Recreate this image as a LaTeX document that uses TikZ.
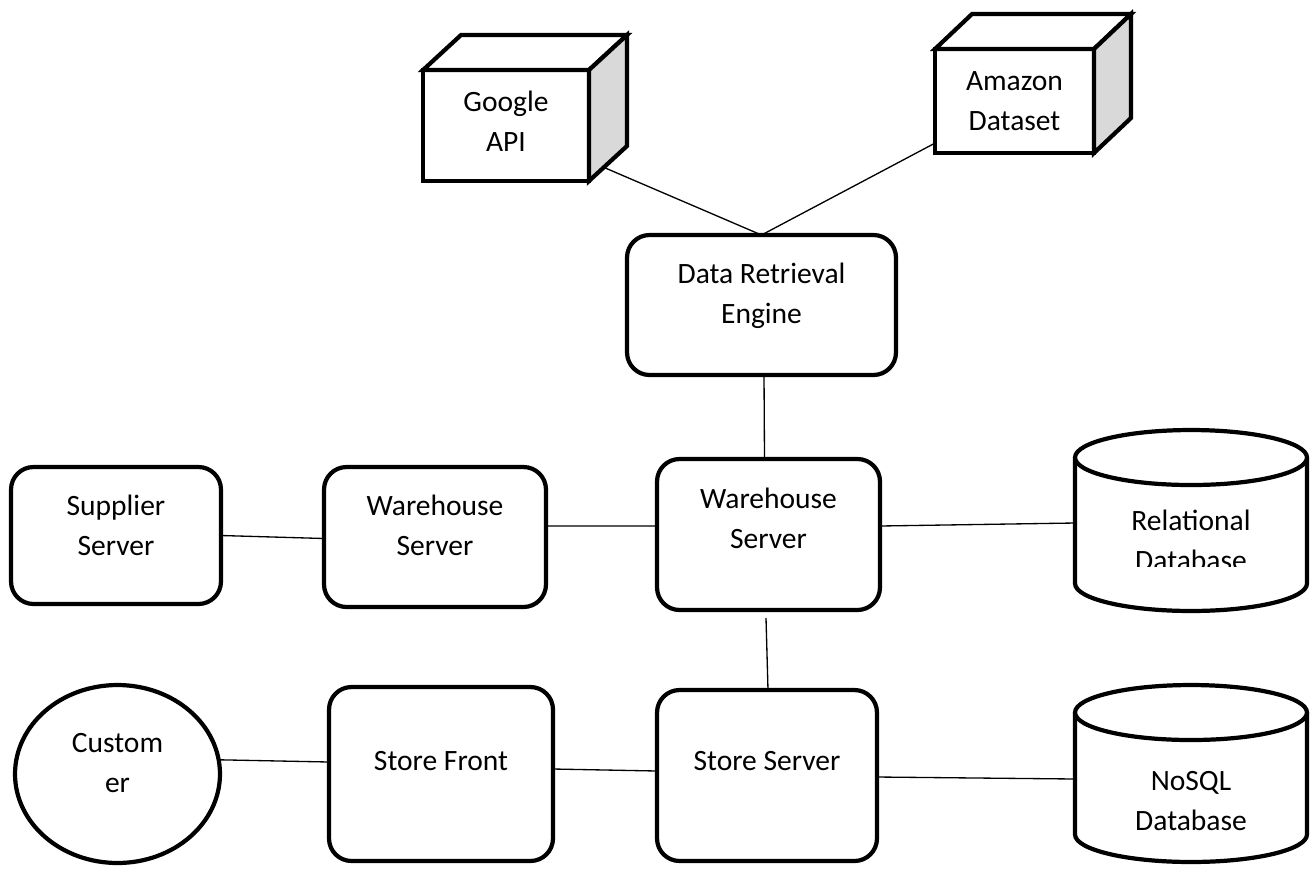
\documentclass[tikz,border=0pt]{standalone}
\usepackage{fontspec}
\setmainfont{Carlito}
\usetikzlibrary{shapes.geometric,positioning,calc,backgrounds}

\tikzset{
  box/.style={draw, line width=2.4pt, fill=white, rounded corners=0.45cm, outer sep=0pt},
  cube/.style={draw, line width=2.4pt, fill=white, line join=miter, outer sep=0pt},
  face/.style={draw, line width=2.4pt, line join=miter},
  cust/.style={draw, ellipse, line width=2.4pt, fill=white, outer sep=0pt},
  db/.style={outer sep=0pt, inner sep=0pt},
  dbline/.style={draw, line width=2.4pt, fill=white},
  link/.style={line width=0.75pt},
  lbl/.style={font=\fontsize{16.8}{22.8}\selectfont, text width=5cm, align=flush center, anchor=base, inner sep=0pt}
}

\begin{document}
\begin{tikzpicture}[x=0.02cm, y=-0.02cm]
  \useasboundingbox (0,0) rectangle (1314,869);

  % outside sources
  \node[cube, minimum width=3.32cm, minimum height=2.22cm] (goo) at (506,125.5) {};
  \draw[face, fill=white] (goo.north west) -- ++(38,-35) -- ++(166,0) -- (goo.north east) -- cycle;
  \draw[face, fill=gray!30] (goo.north east) -- ++(38,-35) -- ++(0,111) -- (goo.south east) -- cycle;
  \node[lbl] (goo-t) at ($(goo.north)+(0,41)$) {Google\\API};

  \node[cube, minimum width=3.18cm, minimum height=2.08cm] (ama) at (1014.5,101) {};
  \draw[face, fill=white] (ama.north west) -- ++(37,-35) -- ++(159,0) -- (ama.north east) -- cycle;
  \draw[face, fill=gray!30] (ama.north east) -- ++(37,-35) -- ++(0,104) -- (ama.south east) -- cycle;
  \node[lbl] (ama-t) at ($(ama.north)+(0,41)$) {Amazon\\Dataset};

  \node[box, minimum width=5.38cm, minimum height=2.8cm] (dre) at (761.5,305) {};
  \node[lbl] (dre-t) at ($(dre.north)+(0,48)$) {Data Retrieval\\Engine};

  % warehouse row
  \node[box, minimum width=4.2cm, minimum height=2.74cm] (sup) at (116,535.5) {};
  \node[lbl] (sup-t) at ($(sup.north)+(0,48)$) {Supplier\\Server};

  \node[box, minimum width=4.44cm, minimum height=2.8cm] (lws) at (435,537) {};
  \node[lbl] (lws-t) at ($(lws.north)+(0,48)$) {Warehouse\\Server};

  \node[box, minimum width=4.46cm, minimum height=3.02cm] (cws) at (768.5,534.5) {};
  \node[lbl] (cws-t) at ($(cws.north)+(0,49)$) {Warehouse\\Server};

  \node[db, minimum width=4.64cm, minimum height=3.62cm] (rdb) at (1191,520.5) {};
  \draw[dbline] ([yshift=-0.55cm]rdb.north west) -- ([yshift=0.55cm]rdb.south west)
    arc[start angle=180, end angle=360, x radius=2.32cm, y radius=0.55cm]
    -- ([yshift=-0.55cm]rdb.north east);
  \draw[dbline] ([yshift=-0.55cm]rdb.north) ellipse[x radius=2.32cm, y radius=0.55cm];
  \begin{scope}
    \clip (rdb.north west) rectangle ($(rdb.east)+(0,45.5)$);
    \node[lbl] (rdb-t) at ($(rdb.north)+(0,100)$) {Relational\\Database};
  \end{scope}

  % store row
  \node[cust, minimum width=4.1cm, minimum height=3.56cm] (cus) at (117.5,774) {};
  \node[lbl] (cus-t) at ($(cus.north)+(0,67)$) {Custom\\er};

  \node[box, minimum width=4.48cm, minimum height=3.48cm] (sf) at (441,774) {};
  \node[lbl] (sf-t) at ($(sf.north)+(0,83)$) {Store Front};

  \node[box, minimum width=4.4cm, minimum height=3.42cm] (ss) at (767,775.5) {};
  \node[lbl] (ss-t) at ($(ss.north)+(0,80)$) {Store Server};

  \node[db, minimum width=4.64cm, minimum height=3.54cm] (ndb) at (1191,773.5) {};
  \draw[dbline] ([yshift=-0.55cm]ndb.north west) -- ([yshift=0.55cm]ndb.south west)
    arc[start angle=180, end angle=360, x radius=2.32cm, y radius=0.55cm]
    -- ([yshift=-0.55cm]ndb.north east);
  \draw[dbline] ([yshift=-0.55cm]ndb.north) ellipse[x radius=2.32cm, y radius=0.55cm];
  \node[lbl] (ndb-t) at ($(ndb.north)+(0,105)$) {NoSQL\\Database};

  % connections
  \begin{scope}[on background layer]
    \draw[link] (goo) -- (dre.north);
    \draw[link] (ama) -- (dre.north);
    \draw[link] ([xshift=0.05cm]dre.south) -- ([xshift=-0.08cm]cws.north);
    \draw[link] (sup.east) -- ([yshift=-0.03cm]lws.west);
    \draw[link] ([yshift=0.22cm]lws.east) -- ([yshift=0.17cm]cws.west);
    \draw[link] ([yshift=0.17cm]cws.east) -- ([yshift=-0.05cm]rdb.west);
    \draw[link] ([xshift=-0.05cm,yshift=-0.16cm]cws.south) -- ([xshift=0.02cm]ss.north);
    \draw[link] (cus.8) -- ([yshift=0.24cm]sf.west);
    \draw[link] ([yshift=0.1cm]sf.east) -- ([yshift=0.09cm]ss.west);
    \draw[link] ([yshift=-0.03cm]ss.east) -- ([yshift=-0.11cm]ndb.west);
  \end{scope}
\end{tikzpicture}
\end{document}
